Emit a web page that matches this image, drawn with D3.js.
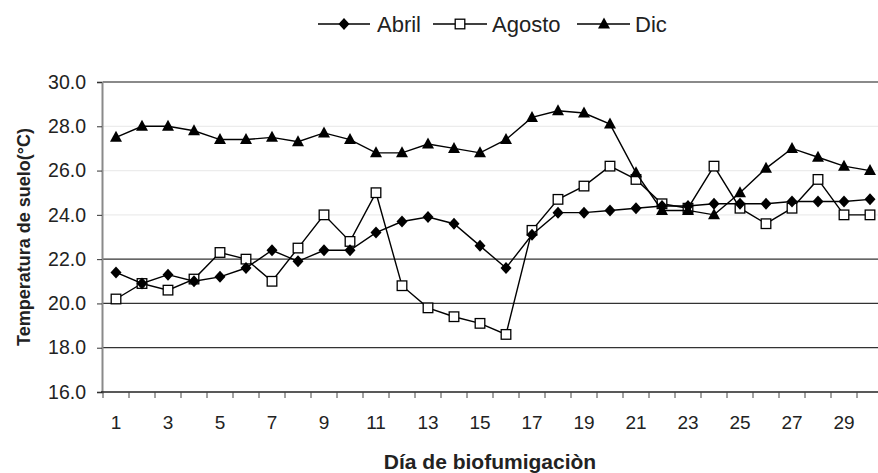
<!DOCTYPE html>
<html>
<head>
<meta charset="utf-8">
<script src="https://cdn.jsdelivr.net/npm/d3@7"></script>
<style>
  html, body { margin: 0; padding: 0; background: #fff; }
  svg { display: block; font-family: "Liberation Sans", Arial, sans-serif; }
</style>
</head>
<body>
<svg id="chart" width="878" height="473"></svg>
<script>
const days = d3.range(1, 31);
const seriesNames = ["Abril", "Agosto", "Dic"];
const abril  = [21.4, 20.9, 21.3, 21.0, 21.2, 21.6, 22.4, 21.9, 22.4, 22.4,
                23.2, 23.7, 23.9, 23.6, 22.6, 21.6, 23.1, 24.1, 24.1, 24.2,
                24.3, 24.4, 24.4, 24.5, 24.5, 24.5, 24.6, 24.6, 24.6, 24.7];
const agosto = [20.2, 20.9, 20.6, 21.1, 22.3, 22.0, 21.0, 22.5, 24.0, 22.8,
                25.0, 20.8, 19.8, 19.4, 19.1, 18.6, 23.3, 24.7, 25.3, 26.2,
                25.6, 24.5, 24.3, 26.2, 24.3, 23.6, 24.3, 25.6, 24.0, 24.0];
const dic    = [27.5, 28.0, 28.0, 27.8, 27.4, 27.4, 27.5, 27.3, 27.7, 27.4,
                26.8, 26.8, 27.2, 27.0, 26.8, 27.4, 28.4, 28.7, 28.6, 28.1,
                25.9, 24.2, 24.2, 24.0, 25.0, 26.1, 27.0, 26.6, 26.2, 26.0];
const yTicks = [16, 18, 20, 22, 24, 26, 28, 30];
const xTickLabels = days.filter(d => d % 2 === 1);
const yTitle = "Temperatura de suelo(°C)";
const xTitle = "Día de biofumigaciòn";

const svg = d3.select("#chart");
const L = 103, R = 883, T = 82, B = 392;

const x = d3.scaleBand().domain(days).range([L, R]).paddingInner(0).paddingOuter(0);
const xc = d => x(d) + x.bandwidth() / 2;
const y = d3.scaleLinear().domain([16, 30]).range([B, T]);

// gridlines
const gridColor = v => (v >= 24 && v <= 28) ? "#ececec" : (v === 30 ? "#8a8a8a" : "#333");
svg.append("g").selectAll("line").data(yTicks.filter(v => v > 16)).join("line")
  .attr("x1", L).attr("x2", 878)
  .attr("y1", d => y(d)).attr("y2", d => y(d))
  .attr("stroke", d => gridColor(d))
  .attr("stroke-width", d => d === 30 ? 2 : 1.3);

// y axis
const yAxis = svg.append("g").attr("transform", `translate(${L - 1},0)`)
  .call(d3.axisLeft(y).tickValues(yTicks).tickFormat(d3.format(".1f")).tickSize(5).tickPadding(11));
yAxis.select(".domain").attr("stroke", "#8a8a8a").attr("stroke-width", 2);
yAxis.selectAll(".tick line").attr("stroke", "#333");
yAxis.selectAll("text").attr("font-size", 19.5).attr("fill", "#222")
  .attr("font-family", "Liberation Sans, Arial, sans-serif");

// x axis
const xAxis = svg.append("g").attr("transform", `translate(0,${B})`);
xAxis.append("line").attr("x1", L - 2).attr("x2", 878).attr("y1", 0).attr("y2", 0)
  .attr("stroke", "#222").attr("stroke-width", 1.5);
xAxis.selectAll("line.tk").data(days.concat([0])).join("line").attr("class", "tk")
  .attr("x1", d => d === 0 ? L : x(d) + x.bandwidth()).attr("x2", d => d === 0 ? L : x(d) + x.bandwidth())
  .attr("y1", 0).attr("y2", 6).attr("stroke", "#444").attr("stroke-width", 1);
xAxis.selectAll("text").data(xTickLabels).join("text")
  .attr("x", d => xc(d)).attr("y", 37).attr("text-anchor", "middle")
  .attr("font-size", 19).attr("fill", "#222").text(d => d);

// titles
svg.append("text").attr("x", 490).attr("y", 469).attr("text-anchor", "middle")
  .attr("font-size", 21).attr("font-weight", "bold").attr("fill", "#222").text(xTitle);
svg.append("text").attr("transform", "translate(30,237) rotate(-90)").attr("text-anchor", "middle")
  .attr("font-size", 18).attr("font-weight", "bold").attr("fill", "#222").text(yTitle);

// marker drawing
function marker(g, type, cx, cy) {
  if (type === "Abril") {
    g.append("path").attr("d", `M${cx},${cy-6}L${cx+5.5},${cy}L${cx},${cy+6}L${cx-5.5},${cy}Z`).attr("fill", "#000");
  } else if (type === "Agosto") {
    g.append("rect").attr("x", cx - 4.8).attr("y", cy - 4.8).attr("width", 9.6).attr("height", 9.6)
      .attr("fill", "#fff").attr("stroke", "#000").attr("stroke-width", 1.3);
  } else {
    g.append("path").attr("d", `M${cx},${cy-6.5}L${cx+6},${cy+4.5}L${cx-6},${cy+4.5}Z`).attr("fill", "#000");
  }
}

const line = d3.line().x((d, i) => xc(days[i])).y(d => y(d));
const plot = svg.append("g");
const drawOrder = [["Agosto", agosto], ["Abril", abril], ["Dic", dic]];
drawOrder.forEach(([name, vals]) => {
  const g = plot.append("g");
  g.append("path").datum(vals).attr("d", line).attr("fill", "none")
    .attr("stroke", "#000").attr("stroke-width", 1.4);
  vals.forEach((v, i) => marker(g, name, xc(days[i]), y(v)));
});

// legend
const legend = svg.append("g");
const legendItems = [
  { name: "Abril", x1: 318, x2: 370, m: 344, tx: 377 },
  { name: "Agosto", x1: 433, x2: 487, m: 460, tx: 492 },
  { name: "Dic", x1: 577, x2: 630, m: 604, tx: 635 }
];
legendItems.forEach(it => {
  legend.append("line").attr("x1", it.x1).attr("x2", it.x2).attr("y1", 24).attr("y2", 24)
    .attr("stroke", "#000").attr("stroke-width", 1.5);
  marker(legend, it.name, it.m, 24);
  legend.append("text").attr("x", it.tx).attr("y", 32).attr("font-size", 22)
    .attr("fill", "#222").text(it.name);
});
</script>
</body>
</html>
